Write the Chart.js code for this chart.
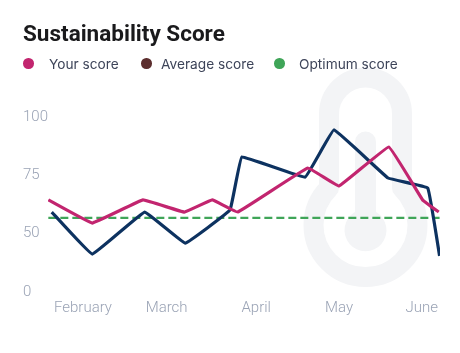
<!DOCTYPE html>
<html>
<head>
<meta charset="utf-8">
<script src="https://cdn.jsdelivr.net/npm/chart.js@4"></script>
<style>
html, body { margin: 0; padding: 0; background: #fff; }
#wrap { position: relative; width: 460px; height: 353px; overflow: hidden; }
#bg { position: absolute; left: 0; top: 0; }
#myChart { position: absolute; left: 0; top: 0; }
#legend span { position: absolute; top: 54.5px; font: 400 13.7px Inter, sans-serif; color: #3d4459; line-height: 18px; white-space: nowrap; }
#legend i { position: absolute; top: 58px; width: 10.5px; height: 10.5px; border-radius: 50%; }
</style>
</head>
<body>
<div id="wrap">
  <svg id="bg" width="460" height="353">
    <path d="M329 188 V114 A36.5 36.5 0 0 1 402 114 V188 A52 52 0 1 1 329 188 Z" fill="none" stroke="#f3f4f6" stroke-width="20" stroke-linejoin="round"/>
    <path d="M355 142 A10.5 10.5 0 0 1 376 142 V212 A21 21 0 1 1 355 212 Z" fill="#f3f4f6"/>
  </svg>
  <canvas id="myChart" width="460" height="353"></canvas>
  <div id="legend"></div>
</div>
<script>
const legendNames = ["Your score", "Average score", "Optimum score"];
const legendColors = ["#c2256f", "#5c2e2e", "#3fa558"];
const legendDotX = [23, 141, 274];
const legendTextX = [49, 161, 299];

const yTickValues = [25, 50, 75, 100];
const yTickLabels = ["0", "50", "75", "100"];
const xTickValues = [2, 2.99, 4.05, 5.03, 6.01];
const xTickLabels = ["February", "March", "April", "May", "June"];

const yourX = [1.59, 2.11, 2.71, 3.2, 3.53, 3.83, 4.66, 5.03, 5.62, 6.02, 6.21];
const yourY = [63.6, 53.7, 63.6, 58.4, 63.6, 58.4, 77.3, 69.6, 86.3, 63.6, 58.4];
const averageX = [1.63, 2.11, 2.73, 3.21, 3.74, 3.88, 4.63, 4.97, 5.61, 6.08, 6.22];
const averageY = [58.4, 40.4, 58.4, 45.1, 59.3, 82, 73.4, 93.6, 73, 68.7, 39.6];
const optimumX = [1.59, 6.22];
const optimumY = [55.9, 55.9];

function toPoints(xs, ys) {
    return xs.map((x, i) => ({ x: x, y: ys[i] }));
}

// html legend, the dots and the text sit further apart than the built in one allows
const legendBox = document.getElementById("legend");
legendNames.forEach((name, i) => {
    const dot = document.createElement("i");
    dot.style.left = legendDotX[i] + "px";
    dot.style.background = legendColors[i];
    const text = document.createElement("span");
    text.style.left = legendTextX[i] + "px";
    text.textContent = name;
    legendBox.append(dot, text);
});

const tickFont = { family: "Roboto", size: 15, weight: "300" };

new Chart("myChart", {
    type: "line",
    data: {
        datasets: [
            {
                label: "Optimum score",
                data: toPoints(optimumX, optimumY),
                borderColor: "#3fa558",
                borderWidth: 2.4,
                borderDash: [8, 4],
                pointRadius: 0,
                order: 3
            },
            {
                label: "Average score",
                data: toPoints(averageX, averageY),
                borderColor: "#0d3260",
                borderWidth: 3.2,
                borderJoinStyle: "round",
                tension: 0.06,
                pointRadius: 0,
                order: 2
            },
            {
                label: "Your score",
                data: toPoints(yourX, yourY),
                borderColor: "#c2256f",
                borderWidth: 3.2,
                borderJoinStyle: "round",
                tension: 0.06,
                pointRadius: 0,
                order: 1
            }
        ]
    },
    options: {
        responsive: false,
        animation: false,
        layout: { padding: { left: 23, right: 20, top: 22, bottom: 0 } },
        plugins: {
            legend: { display: false },
            tooltip: { enabled: false },
            title: {
                display: true,
                text: "Sustainability Score",
                align: "start",
                color: "#1a1a1c",
                font: { family: "Roboto", size: 22.5, weight: "700" },
                padding: { top: 0, bottom: 66 }
            }
        },
        scales: {
            x: {
                type: "linear",
                min: 1.586,
                max: 6.225,
                grid: { display: false },
                border: { display: false },
                afterBuildTicks: (scale) => {
                    scale.ticks = xTickValues.map((v) => ({ value: v }));
                },
                afterFit: (scale) => { scale.height = 63; },
                ticks: {
                    autoSkip: false,
                    maxRotation: 0,
                    color: "#9aa3b5",
                    font: tickFont,
                    padding: 1,
                    callback: (v, i) => xTickLabels[i]
                }
            },
            y: {
                type: "linear",
                min: 25,
                max: 100,
                grid: { display: false },
                border: { display: false },
                afterBuildTicks: (scale) => {
                    scale.ticks = yTickValues.map((v) => ({ value: v }));
                },
                afterFit: (scale) => { scale.width = 25; },
                ticks: {
                    color: "#9aa3b5",
                    font: tickFont,
                    crossAlign: "far",
                    labelOffset: 2,
                    padding: 0,
                    callback: (v, i) => yTickLabels[i]
                }
            }
        }
    }
});
</script>
</body>
</html>
